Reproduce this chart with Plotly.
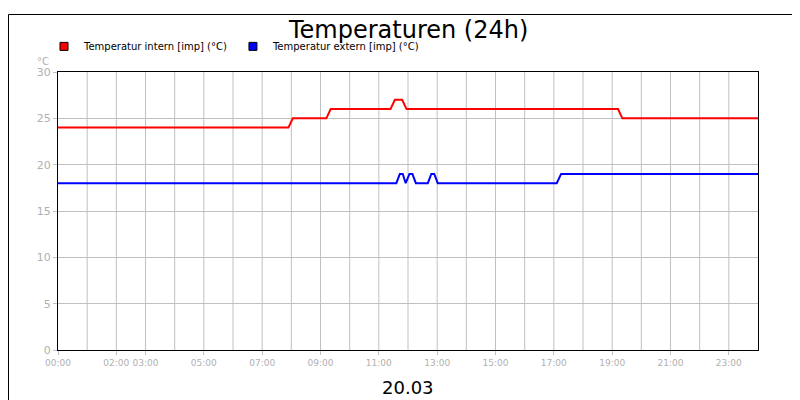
import plotly.graph_objects as go

# hours since 00:00
intern_t = [0, 7.9, 8.05, 9.2, 9.35, 11.4, 11.55, 11.8, 11.95, 19.2, 19.35, 24]
intern_v = [24, 24, 25, 25, 26, 26, 27, 27, 26, 26, 25, 25]
extern_t = [0, 11.6, 11.72, 11.82, 11.92, 12.05, 12.15, 12.27, 12.68, 12.8, 12.9, 13.02, 17.1, 17.25, 24]
extern_v = [18, 18, 19, 19, 18, 19, 19, 18, 18, 19, 19, 18, 18, 19, 19]

tick_hours = [0, 2, 3, 5, 7, 9, 11, 13, 15, 17, 19, 21, 23]
tick_text = ['%02d:00' % h for h in tick_hours]

names = ['Temperatur intern [imp] (°C)', 'Temperatur extern [imp] (°C)']
colors = ['#ff0000', '#0000ff']

fig = go.Figure()
fig.add_trace(go.Scatter(x=intern_t, y=intern_v, mode='lines', showlegend=False,
                         line=dict(color=colors[0], width=2)))
fig.add_trace(go.Scatter(x=extern_t, y=extern_v, mode='lines', showlegend=False,
                         line=dict(color=colors[1], width=2)))
for n, c in zip(names, colors):
    fig.add_trace(go.Scatter(x=[None], y=[None], mode='markers', name=n,
                             marker=dict(symbol='square', size=8, color=c, line=dict(color='black', width=1))))

grid = '#c0c0c0'
fig.update_layout(
    width=800, height=400, paper_bgcolor='white', plot_bgcolor='white',
    margin=dict(l=50, r=50, t=64, b=58, autoexpand=False),
    font=dict(family='DejaVu Sans', size=10, color='black'),
    showlegend=True,
    legend=dict(orientation='h', x=-0.02, y=1.04, xanchor='left', yanchor='bottom',
                font=dict(size=10), bgcolor='rgba(0,0,0,0)', itemwidth=30),
    xaxis=dict(range=[0, 24], tickvals=tick_hours, ticktext=tick_text, showgrid=False, tickangle=0,
               automargin=False, tickfont=dict(color='#b0b0b0', size=9), ticks='outside', ticklen=4,
               tickcolor=grid, showline=True, linecolor='black', mirror=True, zeroline=False),
    yaxis=dict(range=[0, 30], dtick=5, gridcolor=grid, tickfont=dict(color='#b0b0b0', size=11),
               automargin=False, ticks='outside', ticklen=4, tickcolor=grid,
               showline=True, linecolor='black', mirror=True, zeroline=False),
    annotations=[
        dict(text='Temperaturen (24h)', x=0.5, y=336 / 278, xref='paper', yref='paper', xanchor='center',
             yanchor='top', showarrow=False, font=dict(size=24, color='black')),
        dict(text='20.03', x=0.5, y=-0.09, xref='paper', yref='paper', xanchor='center', yanchor='top',
             showarrow=False, font=dict(size=18, color='black')),
        dict(text='°C', x=-0.01, y=1.01, xref='paper', yref='paper', xanchor='right', yanchor='bottom',
             showarrow=False, font=dict(size=10, color='#b0b0b0')),
    ],
    shapes=[dict(type='rect', xref='paper', yref='paper', x0=-49.5 / 700, x1=749.5 / 700,
                 y0=-57.5 / 278, y1=335.5 / 278, line=dict(color='black', width=1))],
)
for h in range(1, 24):
    fig.add_vline(x=h, line=dict(color=grid, width=1), layer='below')

fig.write_html('out.html')
